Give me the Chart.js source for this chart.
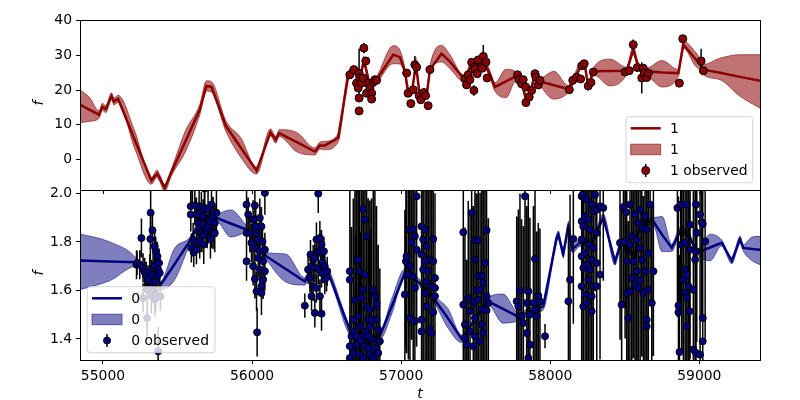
<!DOCTYPE html>
<html><head><meta charset="utf-8">
<script src="https://cdn.jsdelivr.net/npm/chart.js@4.4.0/dist/chart.umd.min.js"></script>
<style>
html,body{margin:0;padding:0;background:#fff;}
#wrap{position:relative;width:800px;height:400px;background:#fff;}
canvas{position:absolute;left:0;top:0;}
</style></head><body>
<div id="wrap"><canvas id="c1" width="800" height="400"></canvas><canvas id="c2" width="800" height="400"></canvas></div>
<script>
const FONT = "'DejaVu Sans', sans-serif";
const X_MIN = 54846, X_MAX = 59407;
const xTicks = [55000, 56000, 57000, 58000, 59000];
const xTickLabels = ['55000', '56000', '57000', '58000', '59000'];
const topYRange = [-8.8, 40.2];
const topYTicks = [0, 10, 20, 30, 40];
const topYLabels = ['0', '10', '20', '30', '40'];
const botYRange = [1.313, 2.014];
const botYTicks = [1.4, 1.6, 1.8, 2.0];
const botYLabels = ['1.4', '1.6', '1.8', '2.0'];
const topSeriesName = '1';
const botSeriesName = '0';

// ---- top panel (series "1") model line and band
const topT = [54846,54911,54974,54996,55019,55057,55074,55101,55213,55325,
  55363,55381,55414,55459,55555,55649,55694,55728,55824,55925,
  56030,56124,56159,56182,56300,56421,56455,56488,56577,56645,
  56683,56723,56750,56790,56835,56947,56992,57025,57047,57072,
  57099,57126,57171,57193,57271,57327,57416,57441,57475,57495,
  57528,57562,57596,57629,57703,57775,57819,57837,57875,57898,
  57931,58025,58121,58153,58211,58233,58255,58289,58401,58513,
  58557,58591,58647,58750,58859,58893,58971,59016,59027,59139,
  59273,59407];
const topF = [15.8,14.3,12.9,15.2,14.5,18.2,16.7,17.5,5.7,-6.1,
  -4.1,-5.4,-8.2,-3.7,5.4,14.3,21.2,20.9,9.7,3.4,
  -3.2,7.8,5.7,7.6,5.0,2.3,4.0,4.0,6.2,24.1,
  25.5,23.0,28.5,21.5,23.0,30.2,29.5,25.4,19.5,19.5,
  27.3,18.2,18.5,25.9,30.5,28.2,23.5,24.5,27.5,25.5,
  28.0,27.5,24.5,20.9,22.5,24.1,20.6,17.5,20.5,24.9,
  22.5,21.4,20.3,22.5,27.3,27.0,21.0,25.4,25.5,25.6,
  31.6,26.8,25.4,25.1,24.9,33.1,29.1,26.8,25.9,25.0,
  23.8,22.7];
const topLo = [10.6,11.0,11.9,14.2,13.5,17.2,15.7,16.5,3.2,-7.1,
  -5.1,-6.4,-9.2,-4.7,2.4,12.8,19.7,19.4,8.2,0.6,
  -4.2,6.8,4.7,6.6,2.2,1.3,3.0,2.8,5.0,22.9,
  24.5,22.0,27.5,20.5,22.0,27.6,27.5,24.4,18.5,18.5,
  26.3,17.2,17.5,24.9,28.1,26.2,22.5,23.5,26.5,24.5,
  27.0,26.5,23.5,19.7,17.8,23.1,19.6,16.5,19.5,23.9,
  21.5,17.4,19.3,21.5,26.3,26.0,20.0,24.4,21.2,24.6,
  30.4,25.8,24.4,20.9,23.9,32.1,27.1,25.3,24.4,23.0,
  18.2,14.8];
const topHi = [20.1,17.8,14.0,16.2,15.5,19.2,17.7,18.5,8.2,-5.1,
  -3.1,-4.4,-7.2,-2.7,8.4,15.8,22.7,22.4,11.2,6.2,
  -2.2,8.8,6.7,8.6,7.8,3.3,5.0,5.2,7.4,25.3,
  26.5,24.0,29.5,22.5,24.0,32.8,31.5,26.4,20.5,20.5,
  28.3,19.2,19.5,26.9,32.9,30.2,24.5,25.5,28.5,26.5,
  29.0,28.5,25.5,22.1,26.0,25.1,21.6,18.5,21.5,25.9,
  23.5,25.4,21.3,23.5,28.3,28.0,22.0,26.4,28.9,26.6,
  32.8,27.8,26.4,28.5,25.9,34.1,31.1,28.3,27.4,29.2,
  30.2,30.2];

// ---- top panel observations
const topObsT = [56656,56683,56701,56712,56718,56718,56718,56723,56734,56745,
  56750,56763,56768,56779,56790,56802,56802,56812,56824,56835,
  57037,57047,57065,57081,57092,57104,57121,57132,57153,57164,
  57181,57193,57428,57439,57450,57461,57473,57488,57490,57495,
  57510,57517,57544,57551,57569,57577,57781,57790,57808,57819,
  57835,57837,57859,57875,57898,57904,57920,57931,58128,58151,
  58177,58204,58211,58228,58255,58273,58289,58502,58530,58557,
  58584,58614,58624,58631,58647,58658,58866,58889,59012,59027];
const topObsF = [24.4,25.9,22.0,20.6,24.9,17.7,14.0,23.5,22.0,23.5,
  32.1,28.4,19.1,22.0,20.6,19.1,17.4,22.2,23.0,22.8,
  24.9,19.1,16.1,20.1,27.3,26.6,18.4,17.2,19.3,18.4,
  15.5,25.9,23.2,21.5,24.4,23.0,28.0,19.9,26.6,26.0,
  24.7,28.7,26.3,29.7,28.1,23.5,24.4,23.0,21.8,23.0,
  20.9,16.4,18.0,19.9,24.7,23.7,21.5,22.8,20.1,22.8,
  23.7,23.2,27.0,27.6,21.2,22.2,25.2,25.2,25.6,33.1,
  26.5,23.5,26.3,24.9,23.6,24.9,22.0,34.8,28.4,25.6];
const topObsE = [1,1,1,1,7,1,1,1,1,1,
  1.5,1,1,1,1,1,1,1,1,1,
  1,1,1,1,2.5,1,1,1,1,1,
  1,1,1,1,1,1,1,1.5,1,1,
  1,1,1,3.3,1,1,1,1,1,1,
  1,1,1,1,1,1,1,1,1,1,
  1,1,1,1,1,1,1,1,1,1.5,
  1,4.5,1,1,1,1,1,1,3.5,1];

// ---- bottom panel (series "0") model line and band
const botT = [54846,55045,55225,55280,55302,55381,55482,55582,55649,55761,
  55857,55963,56097,56226,56354,56376,56399,56455,56510,56656,
  56757,56857,56938,57025,57126,57226,57314,57406,57495,57584,
  57683,57790,57842,57931,57953,58043,58054,58087,58121,58149,
  58199,58280,58356,58434,58479,58508,58535,58569,58591,58647,
  58691,58750,58815,58871,58916,58991,59072,59150,59218,59273,
  59295,59354,59407];
const botF = [1.723,1.719,1.716,1.658,1.620,1.617,1.710,1.803,1.878,1.899,
  1.876,1.851,1.740,1.688,1.637,1.665,1.695,1.700,1.675,1.435,
  1.400,1.411,1.536,1.672,1.630,1.560,1.485,1.400,1.480,1.555,
  1.524,1.490,1.507,1.528,1.535,1.816,1.830,1.752,1.862,1.770,
  1.796,1.800,1.900,1.720,1.803,1.770,1.761,1.741,1.837,1.885,
  1.885,1.830,1.775,1.844,1.837,1.757,1.777,1.796,1.722,1.810,
  1.775,1.771,1.768];
const botLo = [1.603,1.640,1.700,1.644,1.605,1.600,1.645,1.788,1.863,1.884,
  1.820,1.836,1.725,1.635,1.622,1.650,1.680,1.685,1.660,1.415,
  1.385,1.395,1.505,1.657,1.615,1.545,1.445,1.385,1.465,1.540,
  1.465,1.475,1.492,1.513,1.520,1.801,1.815,1.737,1.847,1.755,
  1.781,1.785,1.885,1.705,1.788,1.755,1.746,1.726,1.822,1.870,
  1.870,1.760,1.760,1.829,1.822,1.745,1.722,1.784,1.710,1.797,
  1.762,1.722,1.706];
const botHi = [1.833,1.800,1.732,1.672,1.635,1.634,1.775,1.818,1.893,1.914,
  1.932,1.866,1.755,1.750,1.652,1.680,1.710,1.715,1.690,1.455,
  1.415,1.427,1.567,1.687,1.645,1.575,1.525,1.415,1.495,1.570,
  1.585,1.505,1.522,1.543,1.550,1.831,1.845,1.767,1.877,1.785,
  1.811,1.815,1.915,1.735,1.818,1.785,1.776,1.756,1.852,1.900,
  1.900,1.905,1.790,1.859,1.852,1.770,1.832,1.808,1.734,1.823,
  1.788,1.820,1.823];

// ---- bottom panel observations
const botObsT = [
  55225,55229,55247,55258,55269,55280,55291,55296,55303,55314,55318,55320,55325,55325,55332,55336,55336,55347,55347,55354,55354,55363,55365,55370,55376,55381,55269,55296,55325,55354,55385,55370,55347,
  55589,55589,55593,55600,55605,55609,55616,55627,55627,55627,55638,55645,55649,55649,55660,55660,55672,55672,55672,55676,55680,55683,55690,55699,55705,55705,55716,55721,55728,55728,55739,55739,55750,55750,55761,
  55963,55963,55963,55974,55985,55996,56007,56007,56019,56019,56019,56025,56030,56030,56034,56041,56041,56052,56052,56052,56063,56063,56063,56070,56074,56074,56086,56086,56086,
  56354,56376,56388,56392,56399,56399,56410,56410,56421,56421,56421,56432,56432,56444,56444,56444,56455,56455,56459,56466,56466,56466,56473,56482,56488,56488,56500,56504,
  56656,56656,56656,56656,56667,56679,56679,56679,56690,56701,56701,56712,56712,56719,56723,56723,56723,56735,56746,56746,56746,56746,56757,56757,56757,56768,56768,56768,56779,56790,56790,56790,56801,56813,56813,56813,56824,56824,56835,56835,56835,56846,56846,56857,56700,56730,56780,56800,56701,56779,
  57025,57032,57036,57048,57054,57059,57059,57070,57081,57081,57092,57092,57092,57104,57104,57137,57137,57137,57137,57148,57148,57160,57160,57160,57171,57171,57171,57182,57193,57193,57204,57204,57215,57215,57215,57227,57227,57227,
  57417,57417,57428,57428,57439,57450,57462,57462,57473,57484,57484,57495,57495,57495,57495,57506,57517,57517,57517,57529,57529,57540,57540,57540,57551,57551,57562,57573,57573,57573,57585,
  57775,57786,57797,57808,57820,57831,57842,57842,57853,57853,57864,57864,57887,57898,57898,57909,57920,57931,57965,
  58122,58133,58155,58211,58211,58211,58211,58211,58218,58222,58222,58222,58234,58234,58234,58245,58245,58245,58256,58256,58256,58267,58267,58278,58278,58278,58278,58289,58289,58289,58301,58312,58312,58312,58312,58334,58334,58356,
  58468,58479,58491,58502,58509,58513,58513,58524,58535,58535,58535,58547,58547,58558,58569,58569,58580,58580,58591,58591,58603,58603,58603,58614,58614,58625,58636,58636,58647,58647,58647,58658,58658,58670,58681,58692,
  58853,58860,58860,58867,58875,58882,58893,58905,58905,58905,58916,58916,58916,58916,58927,58934,58938,58938,58960,58960,58972,58978,58978,58978,58983,59005,59005,59016,59023,59023,59023,59039];
const botObsF = [
  1.706,1.713,1.706,1.816,1.693,1.675,1.658,1.603,1.644,1.679,1.812,1.920,1.665,1.617,1.848,1.693,1.631,1.782,1.702,1.761,1.637,1.658,1.741,1.686,1.713,1.672,1.569,1.486,1.576,1.583,1.576,1.349,1.562,
  1.947,1.913,1.775,2.030,1.809,1.757,1.950,1.913,1.796,1.768,1.878,1.947,1.858,1.802,1.926,1.837,1.906,1.871,1.826,1.789,2.020,1.940,1.853,1.844,1.933,1.862,1.885,1.812,1.954,1.844,1.906,1.840,1.878,1.837,1.920,
  1.954,1.837,1.720,1.913,1.837,1.796,1.892,1.700,1.950,1.775,1.647,1.864,1.837,1.596,1.427,1.810,1.734,1.899,1.761,1.686,1.864,1.617,1.589,1.802,1.720,1.645,2.002,1.768,1.679,
  1.537,1.686,1.651,1.748,1.699,1.576,1.727,1.617,1.734,1.693,1.507,1.810,1.610,1.999,1.761,1.686,1.816,1.576,1.755,1.789,1.672,1.504,1.716,1.761,1.699,1.644,1.655,1.679,
  1.679,1.644,1.370,1.321,1.411,1.479,1.431,1.342,1.560,1.727,1.411,1.727,1.493,1.679,1.569,1.452,1.335,1.569,1.936,1.603,1.411,1.321,1.892,1.665,1.370,1.823,1.534,1.431,1.480,1.521,1.452,1.335,1.479,1.603,1.397,1.321,1.576,1.363,1.534,1.479,1.548,1.438,1.342,1.390,1.380,1.390,1.360,1.400,1.376,1.411,
  1.583,1.720,1.741,1.665,1.851,1.700,1.486,1.796,1.853,1.658,1.823,1.610,1.473,1.988,1.768,1.864,1.748,1.479,1.431,1.810,1.686,1.851,1.720,1.589,1.782,1.637,1.534,1.679,1.727,1.438,1.617,1.424,1.812,1.720,1.510,1.651,1.610,1.576,
  1.840,1.541,1.459,1.404,1.376,1.569,1.514,1.431,1.919,1.548,1.370,1.807,1.727,1.486,1.411,1.600,1.807,1.658,1.562,1.603,1.390,1.661,1.521,1.459,1.631,1.424,1.713,1.848,1.576,1.518,1.548,
  1.555,1.534,1.600,1.493,1.466,1.988,1.548,1.424,1.596,1.321,1.500,1.376,1.548,1.730,1.521,1.493,1.578,1.555,1.411,
  1.555,1.644,1.812,1.988,1.885,1.810,1.741,1.617,1.995,1.864,1.693,1.534,1.906,1.755,1.583,1.975,1.706,1.548,1.892,1.789,1.644,1.851,1.686,1.954,1.727,1.576,1.514,1.926,1.775,1.617,1.995,1.933,1.837,1.713,1.617,1.947,1.665,1.940,
  1.796,1.541,1.944,1.802,1.922,1.720,1.589,1.486,1.954,1.789,1.596,1.823,1.651,1.720,1.913,1.624,1.809,1.679,1.878,1.610,1.933,1.775,1.644,1.858,1.727,1.589,1.906,1.679,1.851,1.479,1.452,1.754,1.603,1.954,1.548,1.679,
  1.940,1.537,1.510,1.346,1.954,1.789,1.644,1.796,1.686,1.589,1.954,1.665,1.569,1.452,1.617,1.514,1.871,1.768,1.603,1.356,1.727,1.954,1.761,1.342,1.837,1.913,1.335,1.881,1.874,1.486,1.390,1.802];
const botObsE = [
  0.06,0.05,0.06,0.08,0.06,0.06,0.06,0.07,0.06,0.07,0.09,0.10,0.06,0.07,0.08,0.06,0.06,0.06,0.06,0.06,0.07,0.07,0.06,0.06,0.06,0.07,0.06,0.08,0.07,0.07,0.06,0.10,0.07,
  0.07,0.07,0.06,0.08,0.07,0.06,0.08,0.07,0.08,0.06,0.07,0.08,0.07,0.07,0.08,0.08,0.07,0.08,0.07,0.08,0.10,0.09,0.07,0.07,0.08,0.07,0.08,0.08,0.09,0.07,0.08,0.07,0.08,0.08,0.10,
  0.08,0.07,0.08,0.07,0.08,0.08,0.08,0.08,0.09,0.07,0.08,0.08,0.07,0.08,0.10,0.07,0.08,0.08,0.07,0.08,0.08,0.08,0.09,0.07,0.08,0.08,0.09,0.07,0.08,
  0.05,0.06,0.06,0.06,0.06,0.06,0.06,0.06,0.06,0.06,0.06,0.07,0.06,0.08,0.06,0.06,0.07,0.07,0.06,0.06,0.06,0.07,0.06,0.06,0.06,0.06,0.06,0.06,
  0.40,0.45,0.35,0.40,0.45,0.50,0.40,0.45,0.50,0.45,0.50,0.45,0.50,0.50,0.45,0.55,0.40,0.50,0.45,0.50,0.45,0.50,0.45,0.50,0.45,0.50,0.45,0.50,0.50,0.45,0.50,0.45,0.50,0.45,0.50,0.40,0.45,0.45,0.40,0.45,0.40,0.35,0.40,0.30,0.45,0.45,0.45,0.45,0.40,0.45,
  0.35,0.35,0.40,0.35,0.40,0.40,0.35,0.40,0.40,0.40,0.35,0.40,0.35,0.40,0.40,0.40,0.40,0.35,0.40,0.40,0.40,0.40,0.40,0.40,0.40,0.40,0.35,0.40,0.40,0.35,0.40,0.35,0.35,0.40,0.35,0.35,0.35,0.35,
  0.40,0.40,0.40,0.35,0.35,0.40,0.40,0.40,0.40,0.40,0.35,0.40,0.40,0.40,0.40,0.40,0.40,0.40,0.40,0.40,0.35,0.40,0.40,0.40,0.40,0.35,0.40,0.35,0.40,0.35,0.35,
  0.35,0.40,0.40,0.40,0.40,0.40,0.40,0.35,0.40,0.30,0.40,0.35,0.40,0.40,0.35,0.35,0.30,0.30,0.05,
  0.30,0.35,0.35,0.40,0.40,0.40,0.40,0.40,0.40,0.40,0.40,0.40,0.40,0.40,0.40,0.40,0.40,0.40,0.40,0.40,0.40,0.40,0.40,0.40,0.40,0.40,0.40,0.40,0.40,0.40,0.40,0.40,0.40,0.40,0.35,0.35,0.35,0.30,
  0.40,0.40,0.40,0.40,0.40,0.40,0.40,0.40,0.40,0.40,0.40,0.40,0.40,0.40,0.40,0.40,0.40,0.40,0.40,0.40,0.40,0.40,0.40,0.40,0.40,0.40,0.40,0.40,0.40,0.40,0.40,0.40,0.40,0.40,0.40,0.35,
  0.45,0.45,0.45,0.40,0.45,0.45,0.45,0.45,0.45,0.45,0.45,0.45,0.45,0.45,0.45,0.45,0.45,0.45,0.45,0.40,0.45,0.45,0.45,0.40,0.45,0.45,0.40,0.40,0.40,0.40,0.40,0.40];

// ---------------- rendering ----------------
const TOP = {line:'#8b0000', band:'rgba(139,0,0,0.55)', edge:'rgba(139,0,0,0.6)', marker:'#8b0000', r:4};
const BOT = {line:'#000080', band:'rgba(0,0,128,0.5)', edge:'rgba(0,0,128,0.55)', marker:'#000080', r:3.5};
const FS = 13.9;

function pts(T, V) { const n = Math.min(T.length, V.length); const o = []; for (let i = 0; i < n; i++) o.push({x: T[i], y: V[i]}); return o; }

function yScale(range, ticks, labels) {
  return {type:'linear', position:'left', min:range[0], max:range[1],
    afterBuildTicks: s => { s.ticks = ticks.map(v => ({value: v})); },
    ticks:{color:'#000', font:{family:FONT, size:FS}, padding:4, autoSkip:false, callback:(v, i) => labels[i]},
    grid:{display:true, drawOnChartArea:false, drawTicks:true, tickLength:4, color:'#000', lineWidth:1},
    border:{display:false},
    afterFit: s => { s.width = 80; s.paddingTop = 0; s.paddingBottom = 0; }
  };
}

function datasets(T, F, Lo, Hi, OT, OF, st) {
  return [
    {data:pts(T, Hi), fill:'+1', backgroundColor:st.band, borderColor:st.edge, borderWidth:1, pointRadius:0, cubicInterpolationMode:'monotone', order:3, clip:0},
    {data:pts(T, Lo), fill:false, backgroundColor:st.band, borderColor:st.edge, borderWidth:1, pointRadius:0, cubicInterpolationMode:'monotone', order:3, clip:0},
    {data:pts(T, F), fill:false, borderColor:st.line, borderWidth:2.5, pointRadius:0, tension:0, order:2, clip:0},
    {data:pts(OT, OF), showLine:false, pointRadius:st.r, pointBackgroundColor:st.marker, pointBorderColor:'#000', pointBorderWidth:1, order:1, clip:0}
  ];
}

function errBars(idx, T, F, E) {
  return {id:'errbars', beforeDatasetDraw(chart, args) {
    if (args.index !== idx) return;
    const {ctx, chartArea:a} = chart; const xs = chart.scales.x, ys = chart.scales.y;
    ctx.save(); ctx.beginPath(); ctx.rect(a.left, a.top, a.right - a.left, a.bottom - a.top); ctx.clip();
    ctx.strokeStyle = '#000'; ctx.lineWidth = 1.5; ctx.beginPath();
    const n = Math.min(T.length, F.length, E.length);
    for (let i = 0; i < n; i++) {
      const px = xs.getPixelForValue(T[i]);
      ctx.moveTo(px, ys.getPixelForValue(F[i] - E[i]));
      ctx.lineTo(px, ys.getPixelForValue(F[i] + E[i]));
    }
    ctx.stroke(); ctx.restore();
  }};
}

function rrect(ctx, x, y, w, h, r) {
  ctx.beginPath(); ctx.moveTo(x + r, y); ctx.lineTo(x + w - r, y); ctx.arcTo(x + w, y, x + w, y + r, r);
  ctx.lineTo(x + w, y + h - r); ctx.arcTo(x + w, y + h, x + w - r, y + h, r); ctx.lineTo(x + r, y + h);
  ctx.arcTo(x, y + h, x, y + h - r, r); ctx.lineTo(x, y + r); ctx.arcTo(x, y, x + r, y, r); ctx.closePath();
}

function deco(o) {
  return {id:'deco', afterDraw(chart) {
    const {ctx, chartArea:a} = chart; const xs = chart.scales.x;
    ctx.save();
    if (o.topTicks) {
      ctx.strokeStyle = '#000'; ctx.lineWidth = 1; ctx.beginPath();
      xTicks.forEach(v => { const px = Math.round(xs.getPixelForValue(v)) + 0.5; ctx.moveTo(px, a.bottom); ctx.lineTo(px, a.bottom + 4); });
      ctx.stroke();
    }
    ctx.strokeStyle = '#000'; ctx.lineWidth = 1;
    const L = Math.round(a.left) + 0.5, R = Math.round(a.right) + 0.5, T = Math.round(a.top) + 0.5, B = Math.round(a.bottom) + 0.5;
    ctx.strokeRect(L, T, R - L, B - T);
    ctx.fillStyle = '#000'; ctx.font = 'italic ' + FS + 'px ' + FONT; ctx.textAlign = 'center'; ctx.textBaseline = 'middle';
    ctx.save(); ctx.translate(39, (a.top + a.bottom) / 2 - 2); ctx.rotate(-Math.PI / 2); ctx.fillText('f', 0, 0); ctx.restore();
    if (o.xlabel) ctx.fillText('t', (a.left + a.right) / 2, 394);
    const g = o.legend, st = o.st;
    rrect(ctx, g.x, g.y, g.w, g.h, 3);
    ctx.fillStyle = 'rgba(255,255,255,0.8)'; ctx.fill();
    ctx.strokeStyle = 'rgba(204,204,204,0.8)'; ctx.lineWidth = 1; ctx.stroke();
    const hx0 = g.x + 4.7, hx1 = g.x + 34.7, hxm = g.x + 19.7, tx = g.x + 44;
    ctx.strokeStyle = st.line; ctx.lineWidth = 2.5; ctx.beginPath(); ctx.moveTo(hx0, g.y + 11.6); ctx.lineTo(hx1, g.y + 11.6); ctx.stroke();
    ctx.fillStyle = st.band; ctx.fillRect(hx0, g.y + 27.5, 30, 10.5);
    ctx.strokeStyle = st.edge; ctx.lineWidth = 1; ctx.strokeRect(hx0, g.y + 27.5, 30, 10.5);
    const my = g.y + 53.8;
    ctx.strokeStyle = '#000'; ctx.lineWidth = 1.5; ctx.beginPath(); ctx.moveTo(hxm, my - 6.5); ctx.lineTo(hxm, my + 6.5); ctx.stroke();
    ctx.beginPath(); ctx.arc(hxm, my, st.r, 0, Math.PI * 2); ctx.fillStyle = st.marker; ctx.fill(); ctx.lineWidth = 1; ctx.strokeStyle = '#000'; ctx.stroke();
    ctx.fillStyle = '#000'; ctx.font = FS + 'px ' + FONT; ctx.textAlign = 'left'; ctx.textBaseline = 'middle';
    ctx.fillText(o.name, tx, g.y + 12.5); ctx.fillText(o.name, tx, g.y + 33.5); ctx.fillText(o.name + ' observed', tx, g.y + 54.5);
    ctx.restore();
  }};
}

const common = {responsive:false, animation:false, devicePixelRatio:1, events:[],
  plugins:{legend:{display:false}, tooltip:{enabled:false}}};

new Chart(document.getElementById('c1'), {
  type:'line',
  data:{datasets:datasets(topT, topF, topLo, topHi, topObsT, topObsF, TOP)},
  options:Object.assign({}, common, {
    layout:{padding:{top:20, right:40, bottom:210, left:0}},
    scales:{
      x:{type:'linear', display:false, min:X_MIN, max:X_MAX},
      y:yScale(topYRange, topYTicks, topYLabels)
    }
  }),
  plugins:[errBars(3, topObsT, topObsF, topObsE), deco({topTicks:true, xlabel:false, st:TOP, name:topSeriesName, legend:{x:626, y:116.7, w:126.7, h:66}})]
});

new Chart(document.getElementById('c2'), {
  type:'line',
  data:{datasets:datasets(botT, botF, botLo, botHi, botObsT, botObsF, BOT)},
  options:Object.assign({}, common, {
    layout:{padding:{top:190, right:40, bottom:0, left:0}},
    scales:{
      x:{type:'linear', min:X_MIN, max:X_MAX,
        afterBuildTicks: s => { s.ticks = xTicks.map(v => ({value: v})); },
        ticks:{color:'#000', font:{family:FONT, size:FS}, padding:4, maxRotation:0, autoSkip:false, callback:(v, i) => xTickLabels[i]},
        grid:{display:true, drawOnChartArea:false, drawTicks:true, tickLength:4, color:'#000', lineWidth:1},
        border:{display:false},
        afterFit: s => { s.height = 40; s.paddingLeft = 0; s.paddingRight = 0; }},
      y:yScale(botYRange, botYTicks, botYLabels)
    }
  }),
  plugins:[errBars(3, botObsT, botObsF, botObsE), deco({topTicks:false, xlabel:true, st:BOT, name:botSeriesName, legend:{x:87.3, y:286.7, w:127.7, h:66}})]
});
</script>
</body></html>
